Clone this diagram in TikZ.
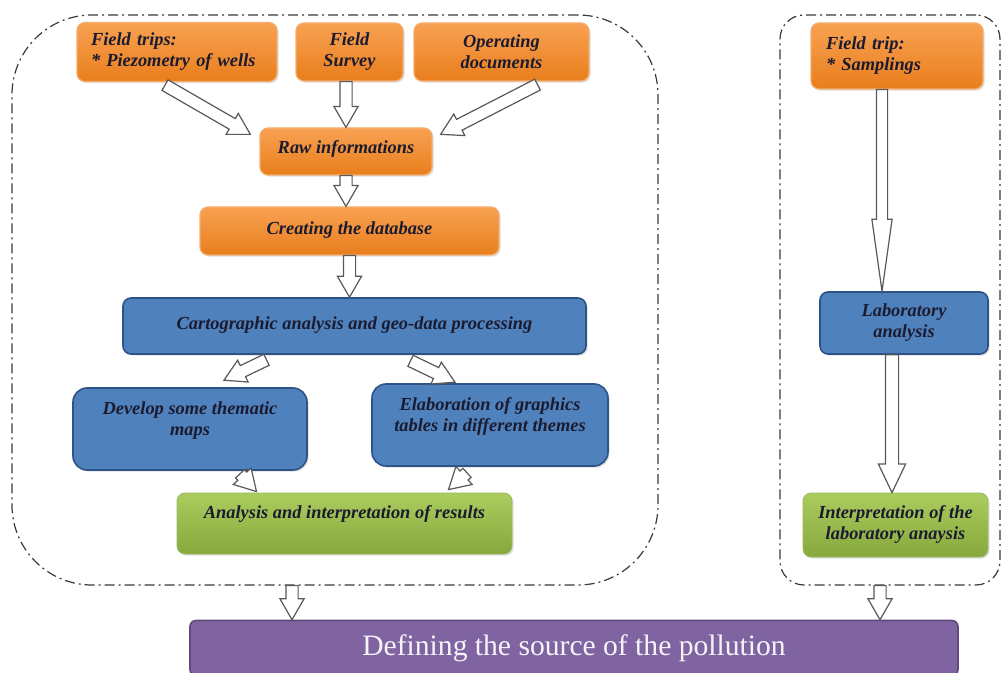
\documentclass[tikz,border=0pt]{standalone}
\usepackage{fontspec}
\setmainfont{Liberation Serif}
\usetikzlibrary{calc,shapes.arrows,shadows}

\definecolor{orangetop}{HTML}{F8A152}
\definecolor{orangebot}{HTML}{E97E1C}
\definecolor{orangeline}{HTML}{F4AE6E}
\definecolor{bluefill}{HTML}{4F81BD}
\definecolor{blueline}{HTML}{2E5387}
\definecolor{greentop}{HTML}{ABCD5F}
\definecolor{greenbot}{HTML}{86A83C}
\definecolor{purplefill}{HTML}{8064A2}
\definecolor{purpleline}{HTML}{5F4A7B}
\definecolor{boxtext}{HTML}{1B1B30}
\definecolor{dashgray}{HTML}{3A3A3A}

% hollow block arrow from #2 to #3 in style #1
\newcommand\hollowarrow[3]{%
  \path let \p1=($(#3)-(#2)$) in
    node[#1, anchor=tail, rotate={atan2(\y1,\x1)}, minimum height={veclen(\x1,\y1)}] at (#2) {};}

\begin{document}
\begin{tikzpicture}
	[	x=.5pt, y=-.5pt,
	box/.style={rectangle, rounded corners=4pt, align=center, inner sep=2pt,
		font=\fontsize{9.2}{10.5}\selectfont\bfseries\itshape, text=boxtext,
		drop shadow={shadow xshift=.8pt, shadow yshift=-.8pt, opacity=.25}},
	obox/.style={box, top color=orangetop, bottom color=orangebot, draw=orangeline, line width=.6pt},
	bbox/.style={box, fill=bluefill, draw=blueline, line width=.8pt},
	gbox/.style={box, top color=greentop, bottom color=greenbot, draw=greenbot!80!white, line width=.4pt},
	pbox/.style={rectangle, rounded corners=3pt, fill=purplefill, draw=purpleline, line width=.8pt,
		text=white!92!purplefill, font=\fontsize{14.8}{16}\selectfont},
	region/.style={rectangle, draw=dashgray, line width=.6pt, dash pattern=on 5pt off 2pt on 1pt off 2pt},
	hollow/.style={single arrow, draw=black!65, fill=white, line width=.6pt, inner xsep=0pt, inner ysep=2.75pt,
		outer sep=0pt, minimum width=0pt, single arrow head extend=3pt, single arrow tip angle=60},
	hollowlong/.style={hollow, inner ysep=2.5pt, single arrow head extend=2.25pt, single arrow tip angle=16},
	hollowmid/.style={hollow, inner ysep=3pt, single arrow head extend=3.5pt, single arrow tip angle=51}
	]
	\fill[white] (0,0) rectangle (1001,673);
	\useasboundingbox (0,0) rectangle (1001,673);

	% the two dashed groups
	\node[region, rounded corners=40pt, minimum width=323pt, minimum height=285pt] (left) at (335,300) {};
	\node[region, rounded corners=12pt, minimum width=110pt, minimum height=285pt] (right) at (890,300) {};

	% left group
	\node[obox, minimum width=100pt, minimum height=29.5pt, text width=86pt, align=left] (ft) at (177,52) {Field trips:\\{*} Piezometry of wells};
	\node[obox, minimum width=53.5pt, minimum height=29pt] (fs) at (349.5,52) {Field\\Survey};
	\node[obox, minimum width=87.5pt, minimum height=29pt] (od) at (501.5,52) {Operating\\documents};
	\node[obox, minimum width=86pt, minimum height=23.5pt, text depth=4.7pt] (raw) at (346,151.5) {Raw informations};
	\node[obox, minimum width=149.5pt, minimum height=24pt, text depth=2.7pt] (db) at (349.5,231) {Creating the database};
	\node[bbox, minimum width=231.5pt, minimum height=28pt, text depth=3.2pt] (carto) at (354.5,326) {Cartographic analysis and geo-data processing};
	\node[bbox, rounded corners=7pt, minimum width=117pt, minimum height=41pt] (maps) at (190,429) {Develop some thematic\\maps\\~};
	\node[bbox, rounded corners=7pt, minimum width=118pt, minimum height=41pt] (elab) at (490,425) {Elaboration of graphics\\tables in different themes\\~};
	\node[gbox, minimum width=167.5pt, minimum height=30.5pt, text depth=11.7pt] (res) at (344.5,523.5) {Analysis and interpretation of results};

	% right group
	\node[obox, minimum width=86pt, minimum height=33pt, text width=71pt, align=left] (samp) at (897,56) {Field trip:\\{*} Samplings};
	\node[bbox, minimum width=84pt, minimum height=31pt] (lab) at (904,323) {Laboratory\\analysis};
	\node[gbox, minimum width=92.5pt, minimum height=32pt] (interp) at (895.5,525) {Interpretation of the\\laboratory anaysis};

	\node[pbox, minimum width=384pt, minimum height=27.5pt] (final) at (574,648) {Defining the source of the pollution};

	% arrow ends
	\coordinate (ft-out) at ([xshift=-6pt,yshift=-1.5pt]ft.south);
	\coordinate (raw-inl) at ([xshift=-4.5pt,yshift=-3.5pt]raw.north west);
	\coordinate (od-out) at ([xshift=18pt,yshift=-1.5pt]od.south);
	\coordinate (raw-inr) at ([xshift=4pt,yshift=-3.5pt]raw.north east);
	\coordinate (carto-outl) at ([xshift=-44pt,yshift=-2.5pt]carto.south);
	\coordinate (maps-in) at ([xshift=17pt,yshift=3.5pt]maps.north);
	\coordinate (carto-outr) at ([xshift=28pt,yshift=-3pt]carto.south);
	\coordinate (elab-in) at ([xshift=-17.5pt,yshift=.5pt]elab.north);
	\coordinate (maps-out) at ([xshift=25pt,yshift=-1.5pt]maps.south);
	\coordinate (res-inl) at ([xshift=-44pt,yshift=.5pt]res.north);
	\coordinate (elab-out) at ([xshift=-11.5pt,yshift=-3pt]elab.south);
	\coordinate (res-inr) at ([xshift=52pt,yshift=1.5pt]res.north);
	\coordinate (samp-out) at ([xshift=-7.5pt]samp.south);
	\coordinate (lab-out) at ([xshift=-6pt]lab.south);
	\coordinate (left-out) at ([xshift=-21.5pt]left.south);
	\coordinate (right-out) at ([xshift=-5pt]right.south);

	\hollowarrow{hollow}{ft-out}{raw-inl}
	\hollowarrow{hollow}{raw.north |- fs.south}{raw.north}
	\hollowarrow{hollow}{od-out}{raw-inr}
	\hollowarrow{hollow}{raw.south}{raw.south |- db.north}
	\hollowarrow{hollow}{db.south}{db.south |- carto.north}
	\hollowarrow{hollow}{carto-outl}{maps-in}
	\hollowarrow{hollow}{carto-outr}{elab-in}
	\hollowarrow{hollow}{maps-out}{res-inl}
	\hollowarrow{hollow}{elab-out}{res-inr}
	\hollowarrow{hollowlong}{samp-out}{samp-out |- lab.north}
	\hollowarrow{hollowmid}{lab-out}{lab-out |- interp.north}
	\hollowarrow{hollow}{left-out}{left-out |- final.north}
	\hollowarrow{hollow}{right-out}{right-out |- final.north}
\end{tikzpicture}
\end{document}
